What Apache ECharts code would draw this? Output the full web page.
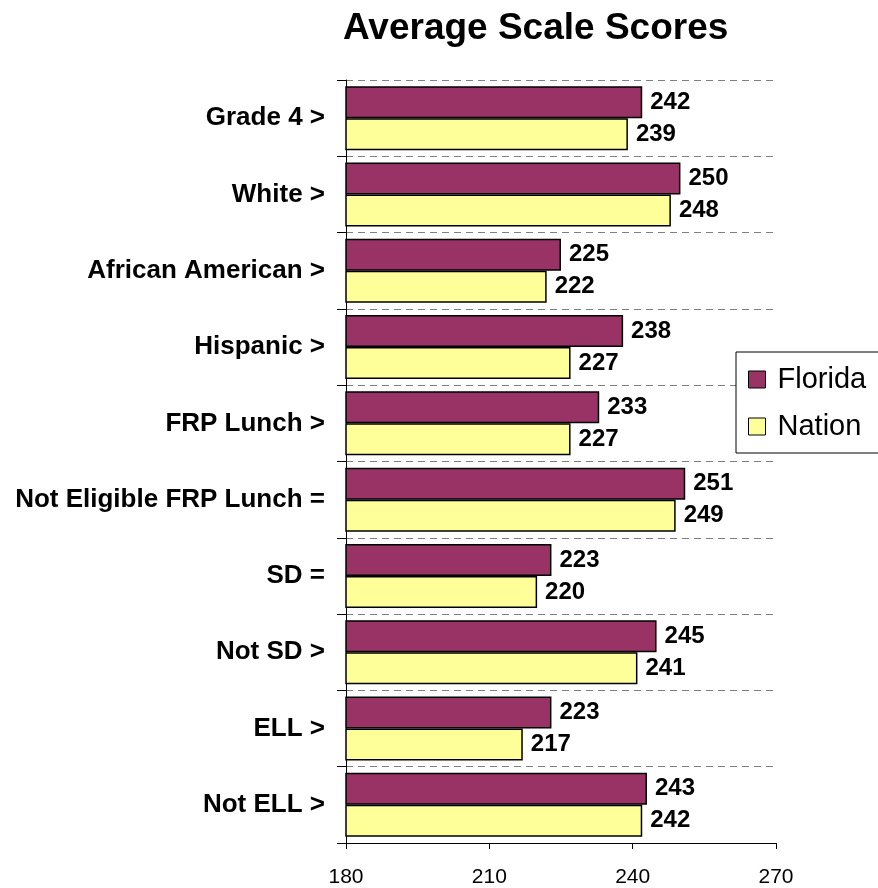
<!DOCTYPE html>
<html>
<head>
<meta charset="utf-8">
<script src="https://cdn.jsdelivr.net/npm/echarts@6/dist/echarts.min.js"></script>
<style>
  html, body { margin: 0; padding: 0; background: #fff; }
  #chart { width: 878px; height: 888px; }
</style>
</head>
<body>
<div id="chart"></div>
<script>
// 分组名称（从上到下）
const categories = [
  'Grade 4 >', 'White >', 'African American >', 'Hispanic >', 'FRP Lunch >',
  'Not Eligible FRP Lunch =', 'SD =', 'Not SD >', 'ELL >', 'Not ELL >'
];
const floridaScores = [242, 250, 225, 238, 233, 251, 223, 245, 223, 243];
const nationScores = [239, 248, 222, 227, 227, 249, 220, 241, 217, 242];
const xTicks = { min: 180, max: 270, interval: 30 };

const FONT = 'Arial, "Liberation Sans", sans-serif';

const chart = echarts.init(document.getElementById('chart'));

const barLabel = {
  show: true,
  position: 'right',
  distance: 8,
  color: '#000',
  fontFamily: FONT,
  fontWeight: 'bold',
  fontSize: 24
};

const option = {
  backgroundColor: '#fff',
  animation: false,
  title: {
    text: 'Average Scale Scores',
    left: 343,
    top: 10,
    padding: 0,
    textStyle: { fontFamily: FONT, fontWeight: 'bold', fontSize: 37, color: '#000' }
  },
  legend: {
    orient: 'vertical',
    left: 736,
    top: 352,
    padding: [13, 30, 12, 12],
    itemWidth: 17,
    itemHeight: 17,
    itemGap: 18,
    backgroundColor: '#fff',
    borderColor: '#000',
    borderWidth: 1,
    icon: 'rect',
    itemStyle: { borderColor: '#000', borderWidth: 1 },
    textStyle: { fontFamily: FONT, fontSize: 29, color: '#000', padding: [0, 0, 0, 7] },
    data: ['Florida', 'Nation']
  },
  grid: { left: 346, right: 102, top: 80, bottom: 45 },
  xAxis: {
    type: 'value',
    min: xTicks.min,
    max: xTicks.max,
    interval: xTicks.interval,
    axisLine: { show: true, lineStyle: { color: '#000', width: 1 } },
    axisTick: { show: true, length: 6, lineStyle: { color: '#000' } },
    axisLabel: { color: '#000', fontFamily: FONT, fontSize: 21, margin: 24 },
    splitLine: { show: false }
  },
  yAxis: {
    type: 'category',
    inverse: true,
    data: categories,
    axisLine: { show: true, lineStyle: { color: '#000', width: 1 } },
    axisTick: { show: true, length: 9, lineStyle: { color: '#000' } },
    axisLabel: { color: '#000', fontFamily: FONT, fontWeight: 'bold', fontSize: 26, margin: 21 },
    splitLine: { show: true, lineStyle: { color: '#808080', type: [7, 5], width: 1 } }
  },
  series: [
    {
      name: 'Florida',
      type: 'bar',
      data: floridaScores,
      barWidth: 32,
      barGap: '0%',
      itemStyle: { color: '#993366', borderColor: '#000', borderWidth: 1.5 },
      label: barLabel
    },
    {
      name: 'Nation',
      type: 'bar',
      data: nationScores,
      barWidth: 32,
      barGap: '0%',
      itemStyle: { color: '#FFFF99', borderColor: '#000', borderWidth: 1.5 },
      label: barLabel
    }
  ]
};

chart.setOption(option);
</script>
</body>
</html>
